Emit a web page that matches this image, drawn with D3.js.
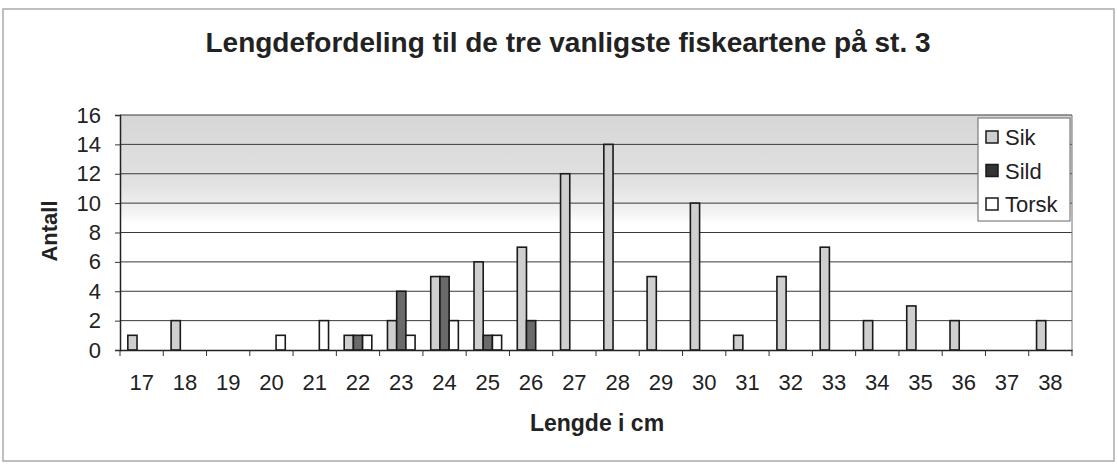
<!DOCTYPE html>
<html>
<head>
<meta charset="utf-8">
<script src="https://cdn.jsdelivr.net/npm/d3@7"></script>
<style>
  body { margin: 0; background: #fff; }
  text { font-family: "Liberation Sans", Arial, sans-serif; fill: #222; }
</style>
</head>
<body>
<div id="chart"></div>
<script>
// data
var lengths = ["17","18","19","20","21","22","23","24","25","26","27","28","29","30","31","32","33","34","35","36","37","38"];
var sik   = [1,2,0,0,0,1,2,5,6,7,12,14,5,10,1,5,7,2,3,2,0,2];
var sild  = [0,0,0,0,0,1,4,5,1,2,0,0,0,0,0,0,0,0,0,0,0,0];
var torsk = [0,0,0,1,2,1,1,2,1,0,0,0,0,0,0,0,0,0,0,0,0,0];
var species = ["Sik","Sild","Torsk"];
var yTicks = [0,2,4,6,8,10,12,14,16];

var colors = {"Sik": "#cfcfcf", "Sild": "#6a6a6a", "Torsk": "#ffffff"};

// margini e dimensioni
var W = 1118, H = 465;
var margin = {top: 115, right: 46, bottom: 115, left: 120},
  width = W - margin.left - margin.right,
  height = H - margin.top - margin.bottom;

var svg = d3.select("#chart")
.append("svg")
  .attr("width", W)
  .attr("height", H);

// cornice esterna
svg.append("rect")
  .attr("x", 3).attr("y", 9)
  .attr("width", W - 7).attr("height", H - 13)
  .attr("fill", "none")
  .attr("stroke", "#aaa")
  .attr("stroke-width", 1.5);

var defs = svg.append("defs");
var grad = defs.append("linearGradient")
  .attr("id", "shade").attr("x1", 0).attr("y1", 0).attr("x2", 0).attr("y2", 1);
grad.append("stop").attr("offset", "0%").attr("stop-color", "#d6d6d6");
grad.append("stop").attr("offset", "30%").attr("stop-color", "#e2e2e2");
grad.append("stop").attr("offset", "42%").attr("stop-color", "#f4f4f4");
grad.append("stop").attr("offset", "46%").attr("stop-color", "#ffffff");

var g = svg.append("g")
  .attr("transform", "translate(" + margin.left + "," + margin.top + ")");

// sfondo area grafico
g.append("rect")
  .attr("width", width).attr("height", height)
  .attr("fill", "url(#shade)");

// scale
var x = d3.scaleBand()
  .domain(lengths)
  .range([0, width]);

var xs = d3.scaleBand()
  .domain(species)
  .range([0, x.bandwidth()])
  .paddingOuter(0.85)
  .paddingInner(0);

var y = d3.scaleLinear()
  .domain([0, 16])
  .range([height, 0]);

// griglia
g.append("g")
  .selectAll("line")
  .data(yTicks.filter(function(d) { return d > 0; }))
  .enter()
  .append("line")
    .attr("x1", 0).attr("x2", width)
    .attr("y1", function(d) { return y(d); })
    .attr("y2", function(d) { return y(d); })
    .attr("stroke", "#3a3a3a")
    .attr("stroke-width", 1);

// bordo destro
g.append("line")
  .attr("x1", width).attr("x2", width)
  .attr("y1", 0).attr("y2", height)
  .attr("stroke", "#777").attr("stroke-width", 1);

// barre
var rows = [];
lengths.forEach(function(l, i) {
  rows.push({len: l, sp: "Sik", v: sik[i]});
  rows.push({len: l, sp: "Sild", v: sild[i]});
  rows.push({len: l, sp: "Torsk", v: torsk[i]});
});

g.selectAll(".bar")
  .data(rows.filter(function(d) { return d.v > 0; }))
  .enter()
  .append("rect")
    .attr("class", "bar")
    .attr("x", function(d) { return x(d.len) + xs(d.sp); })
    .attr("y", function(d) { return y(d.v); })
    .attr("width", xs.bandwidth())
    .attr("height", function(d) { return height - y(d.v); })
    .attr("fill", function(d) { return colors[d.sp]; })
    .attr("stroke", "#1a1a1a")
    .attr("stroke-width", 1.6);

// Asse X
var xAxis = g.append("g")
  .attr("transform", "translate(0," + height + ")")
  .call(d3.axisBottom(x).tickSize(0).tickPadding(24));
xAxis.select(".domain").attr("stroke", "#222").attr("stroke-width", 1.5);
xAxis.selectAll("text").style("font-size", "22px").attr("fill", "#222");
// tacche tra le categorie
xAxis.selectAll(".sep")
  .data(lengths.concat(["end"]))
  .enter()
  .append("line")
    .attr("x1", function(d, i) { return i * x.step(); })
    .attr("x2", function(d, i) { return i * x.step(); })
    .attr("y1", 0).attr("y2", 6)
    .attr("stroke", "#333");

// Asse Y
var yAxis = g.append("g")
  .call(d3.axisLeft(y).tickValues(yTicks).tickSize(5).tickPadding(14));
yAxis.select(".domain").attr("stroke", "#222").attr("stroke-width", 1.5);
yAxis.selectAll("line").attr("stroke", "#333");
yAxis.selectAll("text").style("font-size", "22px").attr("fill", "#222");

// titolo
svg.append("text")
  .attr("x", 568)
  .attr("y", 52)
  .attr("text-anchor", "middle")
  .style("font-size", "28px")
  .style("font-weight", "bold")
  .text("Lengdefordeling til de tre vanligste fiskeartene på st. 3");

// Label asse X
svg.append("text")
  .attr("x", 597)
  .attr("y", 431)
  .attr("text-anchor", "middle")
  .style("font-size", "23px")
  .style("font-weight", "bold")
  .text("Lengde i cm");

// Label asse Y
svg.append("text")
  .attr("transform", "translate(57,231) rotate(-90)")
  .attr("text-anchor", "middle")
  .style("font-size", "22px")
  .style("font-weight", "bold")
  .text("Antall");

// legenda
var lg = svg.append("g").attr("transform", "translate(978,118)");
lg.append("rect")
  .attr("width", 92).attr("height", 103)
  .attr("fill", "#fff")
  .attr("stroke", "#666").attr("stroke-width", 1);
var item = lg.selectAll(".item")
  .data(species)
  .enter()
  .append("g")
    .attr("transform", function(d, i) { return "translate(8," + (13 + i * 33.5) + ")"; });
item.append("rect")
  .attr("width", 12).attr("height", 12)
  .attr("fill", function(d) { return d === "Sild" ? "#333" : colors[d]; })
  .attr("stroke", "#1a1a1a").attr("stroke-width", 1.5);
item.append("text")
  .attr("x", 19).attr("y", 14)
  .style("font-size", "22px")
  .text(function(d) { return d; });
</script>
</body>
</html>
